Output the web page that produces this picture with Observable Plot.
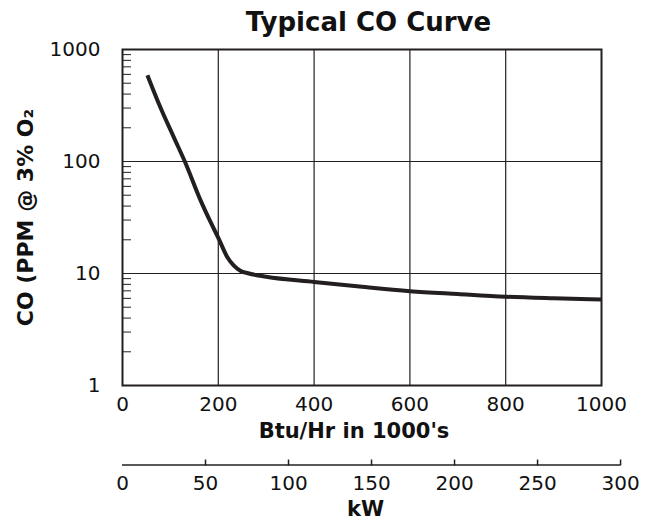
<!DOCTYPE html>
<html>
<head>
<meta charset="utf-8">
<script src="https://cdn.jsdelivr.net/npm/d3@7"></script>
<script src="https://cdn.jsdelivr.net/npm/@observablehq/plot@0.6"></script>
<style>
  html, body { margin: 0; padding: 0; background: #fff; }
  svg { font-family: "DejaVu Sans", sans-serif; }
</style>
</head>
<body>
<div id="chart"></div>
<script>
// Curve: x in Btu/Hr (1000's), y in CO ppm @ 3% O2
const btu = [52, 79, 107, 131, 163, 184, 201, 218, 232, 246, 262, 300, 400, 500, 600, 700, 800, 900, 1000];
const co  = [590, 305, 165, 98, 45, 28.7, 20.4, 14.2, 11.8, 10.6, 10.05, 9.35, 8.4, 7.6, 6.95, 6.55, 6.2, 6.0, 5.85];

const btuTicks = [0, 200, 400, 600, 800, 1000];
const btuGrid = [200, 400, 600, 800];
const coTicks = [1, 10, 100, 1000];
const coGrid = [10, 100];
const coMinor = [2,3,4,5,6,7,8,9,20,30,40,50,60,70,80,90,200,300,400,500,600,700,800,900];
const kwTicks = [0, 50, 100, 150, 200, 250, 300];
const kwTickMarks = [50, 100, 150, 200, 250, 300];
const KW = 3.466; // Btu/Hr (1000's) per kW as drawn on the secondary scale

const titleText = "Typical CO Curve";
const yLabel = "CO (PPM @ 3% O\u2082";
const xLabel = "Btu/Hr in 1000's";
const kwLabel = "kW";

const data = btu.map((x, i) => ({x, y: co[i]}));
const kwPos = kwTicks.map(k => k * KW);
const kwMarkPos = kwTickMarks.map(k => k * KW);
const ink = "#231f20";

const chart = Plot.plot({
  width: 659,
  height: 520,
  marginLeft: 122,
  marginRight: 58,
  marginTop: 49,
  marginBottom: 135,
  style: {fontFamily: "DejaVu Sans, sans-serif", background: "#fff", color: "#111"},
  x: {type: "linear", domain: [0, 1000]},
  y: {type: "log", domain: [1, 1000]},
  marks: [
    Plot.gridX(btuGrid, {stroke: ink, strokeOpacity: 1, strokeWidth: 1.2}),
    Plot.gridY(coGrid, {stroke: ink, strokeOpacity: 1, strokeWidth: 1.2}),
    // minor log ticks inside left edge
    Plot.axisY(coMinor, {anchor: "right", dx: -479, tickSize: 8, tickFormat: () => "", stroke: ink, label: null}),
    Plot.axisY(coTicks, {anchor: "left", tickSize: 0, tickPadding: 22, fontSize: 20, fill: "#111", tickFormat: d => String(d), label: null}),
    Plot.axisX(btuTicks, {anchor: "bottom", tickSize: 0, tickPadding: 11, fontSize: 20, fill: "#111", tickFormat: d => String(d), label: null}),
    Plot.frame({stroke: ink, strokeWidth: 2}),
    Plot.line(data, {x: "x", y: "y", curve: "monotone-x", stroke: ink, strokeWidth: 4, strokeLinecap: "butt"}),
    // secondary kW scale
    Plot.ruleY([1], {x1: 0, x2: 300 * KW, dy: 79.5, stroke: ink, strokeWidth: 1.5}),
    Plot.axisX(kwMarkPos, {anchor: "top", tickSize: 6, dy: 415.5, strokeWidth: 1.5, stroke: ink, tickFormat: () => "", label: null}),
    Plot.axisX(kwPos, {anchor: "bottom", tickSize: 0, tickPadding: 11, dy: 79, fontSize: 20, fill: "#111", tickFormat: d => String(Math.round(d / KW)), label: null}),
    // texts
    Plot.text([titleText], {frameAnchor: "top", dx: 6.5, dy: -27.3, lineAnchor: "middle", fontSize: 26, fontWeight: "bold", fill: "#111"}),
    Plot.text([yLabel], {frameAnchor: "left", textAnchor: "middle", dx: -97, rotate: -90, lineAnchor: "middle", fontSize: 22, fontWeight: "bold", fill: "#111"}),
    Plot.text([xLabel], {frameAnchor: "bottom", dx: -8, dy: 45.3, lineAnchor: "middle", fontSize: 21, fontWeight: "bold", fill: "#111"}),
    Plot.text([kwLabel], {frameAnchor: "bottom", dx: 3.5, dy: 123.3, lineAnchor: "middle", fontSize: 21, fontWeight: "bold", fill: "#111"})
  ]
});
document.getElementById("chart").appendChild(chart);
</script>
</body>
</html>
